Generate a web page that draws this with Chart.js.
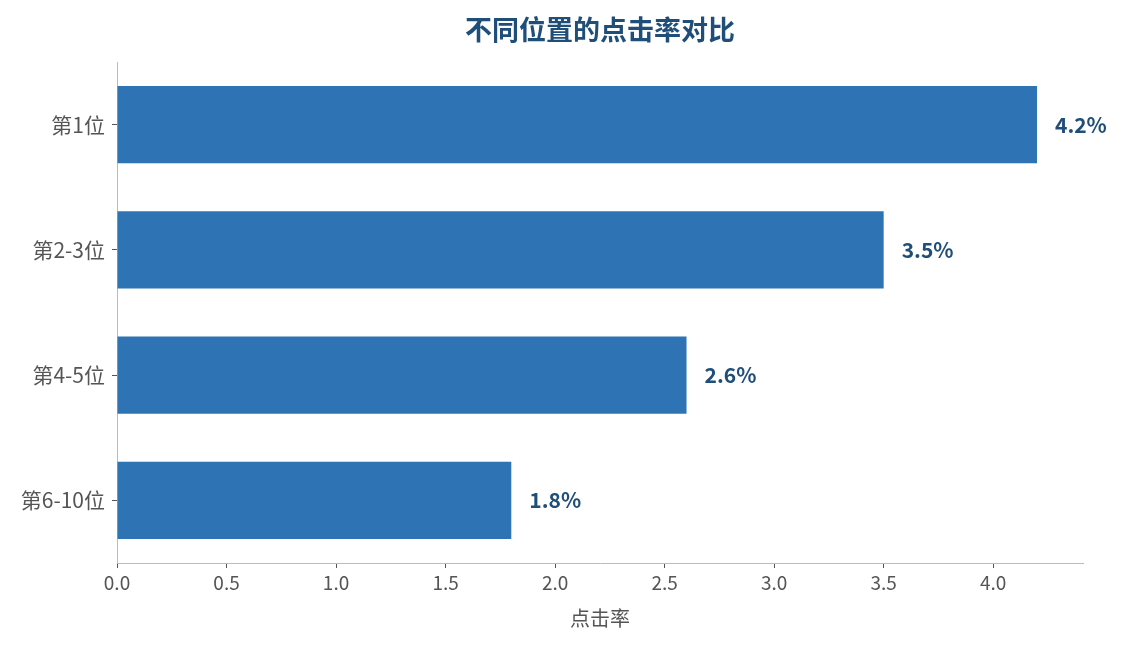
<!DOCTYPE html>
<html>
<head>
<meta charset="utf-8">
<script src="https://cdn.jsdelivr.net/npm/chart.js@4.4.1/dist/chart.umd.min.js"></script>
<style>
  html, body { margin: 0; padding: 0; background: #fff; }
  #wrap { width: 1122px; height: 645px; }
</style>
</head>
<body>
<div id="wrap"><canvas id="ctrChart"></canvas></div>
<script>
const positions = ["第1位", "第2-3位", "第4-5位", "第6-10位"];
const clickRates = [4.2, 3.5, 2.6, 1.8];
const xTicks = [0, 0.5, 1.0, 1.5, 2.0, 2.5, 3.0, 3.5, 4.0];

const FONT = "'Noto Sans CJK SC', 'Noto Sans', sans-serif";
const barColor = "#2e74b5";
const darkBlue = "#1f4e79";

// value labels at bar ends
const valueLabels = {
  id: "valueLabels",
  afterDatasetsDraw: (chart) => {
    const ctx = chart.ctx;
    const meta = chart.getDatasetMeta(0);
    ctx.save();
    ctx.font = `bold 21px ${FONT}`;
    ctx.fillStyle = darkBlue;
    ctx.textAlign = "left";
    ctx.textBaseline = "middle";
    meta.data.forEach((bar, i) => {
      ctx.fillText(`${clickRates[i]}%`, bar.x + 18, bar.y);
    });
    ctx.restore();
  },
};

const config = {
  type: "bar",
  data: {
    labels: positions,
    datasets: [
      {
        label: "点击率",
        data: clickRates,
        backgroundColor: barColor,
        borderWidth: 0,
        barPercentage: 0.615,
        categoryPercentage: 1.0,
      },
    ],
  },
  options: {
    indexAxis: "y",
    responsive: true,
    maintainAspectRatio: false,
    animation: false,
    layout: { padding: { left: 0, right: 39, top: 0, bottom: 0 } },
    plugins: {
      legend: { display: false },
      tooltip: { enabled: false },
      title: {
        display: true,
        fullSize: false,
        text: "不同位置的点击率对比",
        color: darkBlue,
        font: { family: FONT, size: 27, weight: "bold", lineHeight: 1.2 },
        padding: { top: 13.8, bottom: 15.8 },
      },
    },
    scales: {
      x: {
        min: 0,
        max: 4.41,
        afterBuildTicks: (scale) => {
          scale.ticks = xTicks.map((v) => ({ value: v }));
        },
        afterFit: (scale) => {
          scale.height = 82;
        },
        grid: {
          drawOnChartArea: false,
          drawTicks: true,
          tickLength: 5,
          color: "#555",
        },
        border: { display: true, color: "#bbbbbb", width: 1 },
        ticks: {
          color: "#555",
          padding: 3,
          font: { family: FONT, size: 19 },
          callback: (v) => Number(v).toFixed(1),
        },
        title: {
          display: true,
          text: "点击率",
          color: "#555",
          font: { family: FONT, size: 20, lineHeight: 1.2 },
          padding: { top: 4, bottom: 15 },
        },
      },
      y: {
        afterFit: (scale) => {
          scale.width = 117;
        },
        grid: {
          offset: false,
          drawOnChartArea: false,
          drawTicks: true,
          tickLength: 5,
          color: "#555",
        },
        border: { display: true, color: "#bbbbbb", width: 1 },
        ticks: {
          color: "#555",
          padding: 7,
          font: { family: FONT, size: 21 },
        },
      },
    },
  },
  plugins: [valueLabels],
};

const ctrChart = new Chart(document.querySelector("#ctrChart"), config);
</script>
</body>
</html>
